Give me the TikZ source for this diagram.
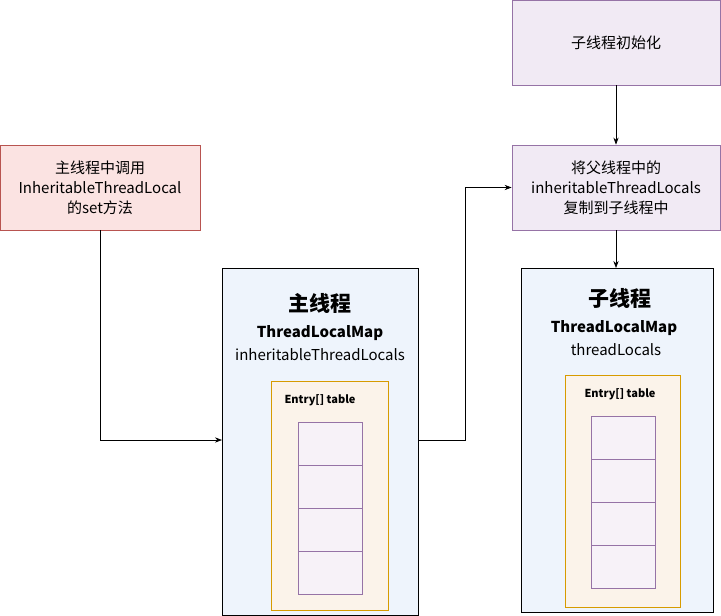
\documentclass[tikz,border=0pt]{standalone}
\usepackage{fontspec}
\setmainfont{Noto Sans CJK SC}
\usetikzlibrary{arrows.meta}
\definecolor{redf}{HTML}{FBE3E2}\definecolor{redd}{HTML}{B85450}
\definecolor{purf}{HTML}{F1EAF4}\definecolor{purd}{HTML}{9673A6}
\definecolor{bluf}{HTML}{EEF4FC}
\definecolor{orad}{HTML}{D79B00}\definecolor{oraf}{HTML}{FBF3EA}
\begin{document}
\begin{tikzpicture}[x=1pt,y=-1pt,
  redbox/.style={draw=redd,fill=redf,line width=0.8pt,minimum width=200pt,minimum height=85pt,align=center,font=\fontsize{15}{20}\selectfont},
  purbox/.style={draw=purd,fill=purf,line width=0.8pt,minimum width=208pt,minimum height=85pt,align=center,font=\fontsize{15}{20}\selectfont},
  cell/.style={draw=purd,fill=purf!60,line width=0.8pt,minimum width=64pt,minimum height=43pt},
  arr/.style={-{Stealth[length=7pt]},line width=0.7pt}]
\useasboundingbox (0,0) rectangle (721,616);
\node[redbox] (red) at (100,187.5) {主线程中调用\\InheritableThreadLocal\\的set方法};
\node[purbox] (init) at (616,42.5) {子线程初始化};
\node[purbox] (copy) at (616,187.5) {将父线程中的\\inheritableThreadLocals\\复制到子线程中};
% main thread
\draw[line width=0.8pt,fill=bluf] (222,268) rectangle (418,615);
\coordinate (mainL) at (222,440); \coordinate (mainR) at (418,440);
\node[font=\bfseries\fontsize{21}{24}\selectfont] (mt) at (320,303) {主线程};
\node[font=\bfseries\fontsize{15}{18}\selectfont] (mm) at (320,333) {ThreadLocalMap};
\node[font=\fontsize{15}{18}\selectfont] (mv) at (320,355) {inheritableThreadLocals};
\draw[draw=orad,fill=oraf,line width=0.8pt] (271,381) rectangle (388,610);
\node[font=\bfseries\fontsize{11}{13}\selectfont] (me) at (320,400) {Entry[] table};
\foreach \y [count=\i] in {444,486.5,529.5,573} \node[cell] (mc\i) at (330,\y) {};
% child thread
\draw[line width=0.8pt,fill=bluf] (521,268) rectangle (713,612);
\coordinate (childT) at (616,268);
\node[font=\bfseries\fontsize{21}{24}\selectfont] (ct) at (620,298) {子线程};
\node[font=\bfseries\fontsize{15}{18}\selectfont] (cm) at (614,328) {ThreadLocalMap};
\node[font=\fontsize{15}{18}\selectfont] (cv) at (616,350) {threadLocals};
\draw[draw=orad,fill=oraf,line width=0.8pt] (565,375) rectangle (680,607);
\node[font=\bfseries\fontsize{11}{13}\selectfont] (ce) at (620,394) {Entry[] table};
\foreach \y [count=\i] in {437.5,480.5,523.5,567} \node[cell] (cc\i) at (623,\y) {};
% arrows
\draw[arr] (red.south) |- (mainL);
\draw[arr] (mainR) -- (465,440) |- (copy.west);
\draw[arr] (init.south) -- (copy.north);
\draw[arr] (copy.south) -- (childT);
\end{tikzpicture}
\end{document}
